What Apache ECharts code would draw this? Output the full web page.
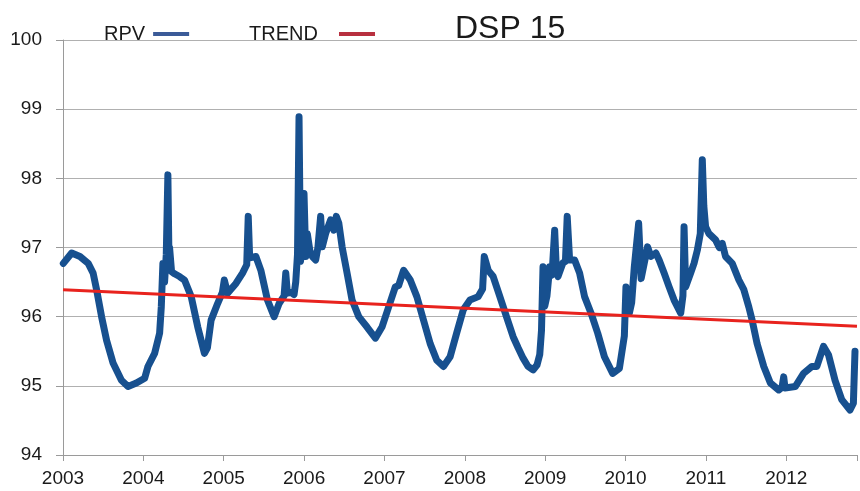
<!DOCTYPE html>
<html>
<head>
<meta charset="utf-8">
<script src="https://cdn.jsdelivr.net/npm/echarts@6/dist/echarts.min.js"></script>
<style>
html,body{margin:0;padding:0;background:#fff;}
#c{width:860px;height:491px;}
</style>
</head>
<body>
<div id="c"></div>
<script>
// ---- data ----
var chartTitle = 'DSP 15';
var seriesNames = ['RPV', 'TREND'];

var rpvDates = [
  2003.004,2003.108,2003.211,2003.314,2003.375,2003.418,2003.480,2003.542,2003.623,2003.727,2003.809,2003.913,
  2004.016,2004.057,2004.140,2004.202,2004.223,2004.243,2004.264,2004.285,2004.305,2004.318,2004.326,2004.351,2004.388,2004.450,2004.512,2004.595,2004.677,2004.760,2004.797,2004.843,2004.924,2004.983,
  2005.007,2005.048,2005.152,2005.234,2005.286,2005.305,2005.323,2005.400,2005.462,2005.544,2005.627,2005.689,2005.751,2005.772,2005.792,2005.838,2005.875,2005.896,2005.918,2005.937,2005.955,2005.974,2005.999,
  2006.020,2006.040,2006.073,2006.102,2006.144,2006.172,2006.206,2006.226,2006.268,2006.330,2006.370,2006.401,2006.432,2006.473,2006.535,2006.597,2006.680,2006.783,2006.887,2006.969,
  2007.052,2007.135,2007.176,2007.238,2007.321,2007.403,2007.486,2007.569,2007.651,2007.734,2007.817,2007.898,2007.981,
  2008.064,2008.167,2008.221,2008.242,2008.291,2008.353,2008.436,2008.518,2008.601,2008.663,2008.725,2008.787,2008.849,2008.898,2008.932,2008.954,2008.973,2008.994,
  2009.022,2009.056,2009.085,2009.118,2009.140,2009.159,2009.221,2009.252,2009.274,2009.304,2009.366,2009.428,2009.490,2009.571,2009.654,2009.737,2009.840,2009.923,2009.985,
  2010.005,2010.047,2010.076,2010.109,2010.163,2010.194,2010.274,2010.315,2010.377,2010.418,2010.480,2010.542,2010.604,2010.686,2010.714,2010.728,2010.748,2010.810,2010.852,2010.893,2010.930,2010.955,2010.974,2010.996,
  2011.038,2011.120,2011.166,2011.203,2011.244,2011.327,2011.410,2011.472,2011.534,2011.575,2011.637,2011.720,2011.802,2011.906,2011.947,2011.968,2011.984,
  2012.112,2012.215,2012.318,2012.380,2012.463,2012.525,2012.607,2012.690,2012.793,2012.835,2012.855
];
var rpvValues = [
  96.77,96.92,96.87,96.77,96.63,96.39,96.00,95.66,95.33,95.08,94.99,95.04,
  95.11,95.28,95.47,95.76,96.14,96.77,96.50,96.90,98.05,96.90,97.00,96.65,96.62,96.58,96.53,96.29,95.85,95.47,95.55,95.95,96.19,96.35,
  96.53,96.34,96.48,96.63,96.75,97.45,96.85,96.87,96.67,96.24,96.00,96.19,96.30,96.63,96.34,96.35,96.32,96.50,96.90,98.89,96.80,97.00,97.78,
  96.87,97.20,96.95,96.87,96.82,97.00,97.45,97.01,97.20,97.40,97.25,97.45,97.35,97.01,96.63,96.24,96.00,95.85,95.69,95.85,
  96.14,96.43,96.45,96.67,96.53,96.29,95.95,95.61,95.37,95.28,95.42,95.76,96.10,
  96.24,96.29,96.40,96.87,96.67,96.58,96.29,96.00,95.71,95.55,95.40,95.28,95.23,95.30,95.45,95.80,96.72,96.15,
  96.30,96.72,96.60,97.25,96.65,96.58,96.78,96.80,97.45,96.82,96.82,96.63,96.29,96.05,95.76,95.42,95.18,95.25,95.72,
  96.43,96.05,96.20,96.72,97.35,96.55,97.01,96.87,96.92,96.82,96.63,96.43,96.24,96.05,96.30,97.30,96.43,96.63,96.77,96.96,97.20,98.27,97.60,97.30,
  97.20,97.11,97.00,97.06,96.87,96.77,96.53,96.39,96.14,95.95,95.61,95.28,95.04,94.94,94.98,95.13,94.97,
  94.99,95.18,95.28,95.28,95.57,95.45,95.08,94.80,94.65,94.75,95.50
];

var trendDates = [2003.0, 2012.88];
var trendValues = [96.39, 95.86];

var xMin = 2003, xMax = 2012.88, xStep = 1;
var yMin = 94, yMax = 100, yStep = 1;

// ---- chart ----
var rpvData = rpvDates.map(function (d, i) { return [d, rpvValues[i]]; });
var trendData = trendDates.map(function (d, i) { return [d, trendValues[i]]; });

var chart = echarts.init(document.getElementById('c'), null, {renderer: 'canvas'});
var font = 'Liberation Sans, Arial, sans-serif';
chart.setOption({
  animation: false,
  backgroundColor: '#ffffff',
  title: {
    text: chartTitle,
    left: 450, top: 8,
    textStyle: {fontFamily: font, fontSize: 32, fontWeight: 'normal', color: '#1a1a1a'}
  },
  legend: {
    left: 99, top: 19,
    align: 'right',
    itemGap: 60,
    itemWidth: 36, itemHeight: 4,
    icon: 'rect',
    textStyle: {fontFamily: font, fontSize: 20, color: '#1a1a1a', padding: [0, 3, 0, 0]},
    data: [
      {name: seriesNames[0], itemStyle: {color: '#3b5b98'}},
      {name: seriesNames[1], itemStyle: {color: '#b8303f'}, textStyle: {padding: [0, 16, 0, 0]}}
    ]
  },
  grid: {left: 63, right: 0, top: 40, bottom: 36, containLabel: false},
  xAxis: {
    type: 'value', min: xMin, max: xMax, interval: xStep,
    axisLine: {show: true, lineStyle: {color: '#9a9a9a', width: 1}},
    axisTick: {show: true, length: 6, lineStyle: {color: '#9a9a9a'}},
    splitLine: {show: false},
    axisLabel: {
      margin: 14, fontFamily: font, fontSize: 19, color: '#1a1a1a',
      formatter: function (v) { return Math.abs(v - Math.round(v)) < 1e-6 ? String(Math.round(v)) : ''; }
    }
  },
  yAxis: {
    type: 'value', min: yMin, max: yMax, interval: yStep,
    axisLine: {show: true, lineStyle: {color: '#9a9a9a', width: 1}},
    axisTick: {show: true, length: 7, lineStyle: {color: '#9a9a9a'}},
    splitLine: {show: true, lineStyle: {color: '#b0b0b0', width: 1}},
    axisLabel: {margin: 21, fontFamily: font, fontSize: 19, color: '#1a1a1a'}
  },
  series: [
    {
      name: seriesNames[0], type: 'line', data: rpvData,
      showSymbol: false, symbol: 'none',
      lineStyle: {color: '#17508f', width: 7, join: 'round', cap: 'round'},
      itemStyle: {color: '#17508f'},
      z: 2
    },
    {
      name: seriesNames[1], type: 'line', data: trendData,
      showSymbol: false, symbol: 'none',
      lineStyle: {color: '#e8231e', width: 3},
      itemStyle: {color: '#e8231e'},
      z: 3
    }
  ]
});
</script>
</body>
</html>
